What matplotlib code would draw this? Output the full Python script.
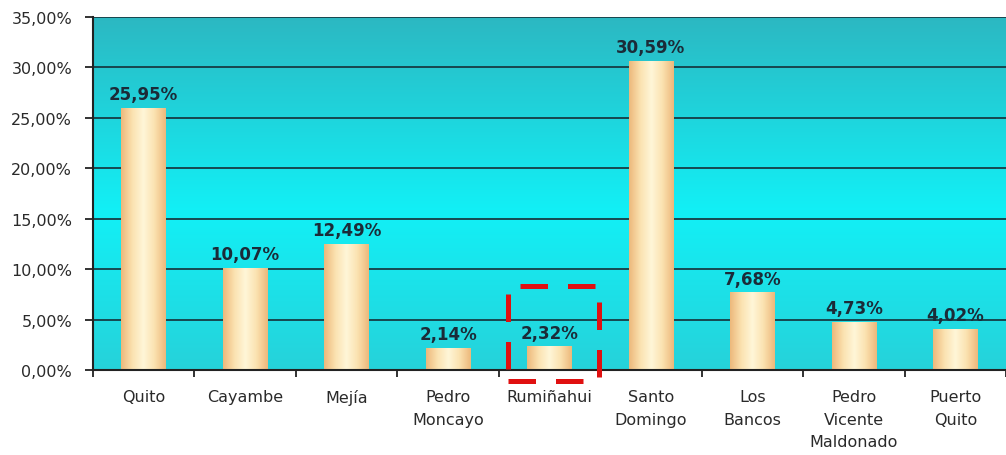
import numpy as np
import matplotlib.pyplot as plt
from matplotlib.patches import Rectangle
from matplotlib.colors import LinearSegmentedColormap

plt.rcParams['font.family'] = ['DejaVu Sans']

# data
cantones = ['Quito', 'Cayambe', 'Mejía', 'Pedro\nMoncayo', 'Rumiñahui',
            'Santo\nDomingo', 'Los\nBancos', 'Pedro\nVicente\nMaldonado', 'Puerto\nQuito']
valores = [25.95, 10.07, 12.49, 2.14, 2.32, 30.59, 7.68, 4.73, 4.02]
etiquetas = ['25,95%', '10,07%', '12,49%', '2,14%', '2,32%', '30,59%', '7,68%', '4,73%', '4,02%']
y_ticks = [0, 5, 10, 15, 20, 25, 30, 35]
y_labels = ['0,00%', '5,00%', '10,00%', '15,00%', '20,00%', '25,00%', '30,00%', '35,00%']
resaltado = 4  # Rumiñahui

fig = plt.figure(figsize=(10.06, 4.56), dpi=100)
ax = fig.add_axes([0.0924, 0.1864, 0.9076, 0.7741])

n = len(cantones)
ax.set_xlim(-0.5, n - 0.5)
ax.set_ylim(0, 35)

# background gradient: darker cyan at bottom, brightest in middle, teal at top
bg_cmap = LinearSegmentedColormap.from_list(
    'bg', [(0, '#26d2da'), (0.45, '#12f0f6'), (1, '#2cb8c2')])
grad = np.linspace(0, 1, 256).reshape(-1, 1)
ax.imshow(grad, cmap=bg_cmap, aspect='auto', extent=(-0.5, n - 0.5, 0, 35),
          origin='lower', zorder=0)

# gridlines
for t in y_ticks[1:]:
    ax.axhline(t, color='#163c44', lw=1.3, zorder=1)

# cylinder bars
bar_cmap = LinearSegmentedColormap.from_list('bar', ['#edb97c', '#fbe2b0', '#fff6d8', '#fbe2b0', '#edb97c'])
w = 0.44
bar_grad = np.linspace(0, 1, 64).reshape(1, -1)
for i, v in enumerate(valores):
    ax.imshow(bar_grad, cmap=bar_cmap, aspect='auto',
              extent=(i - w / 2, i + w / 2, 0, v), zorder=2)
    ax.text(i, v + 0.5, etiquetas[i], ha='center', va='bottom',
            fontsize=12, fontweight='bold', color='#1b2b38', zorder=3)

# red dashed highlight box
box = Rectangle((resaltado - 0.41, -1.1), 0.9, 9.4, fill=False, edgecolor='#e01010',
                lw=3.6, linestyle=(0, (5.5, 4)), clip_on=False, zorder=5)
ax.add_patch(box)

ax.set_xticks(range(n))
ax.set_xticklabels(cantones, fontsize=11.5, color='#2a2a2a', linespacing=1.6)
ax.set_xticks(np.arange(-0.5, n, 1), minor=True)
ax.tick_params(axis='x', which='major', length=0, pad=14)
ax.tick_params(axis='x', which='minor', length=5, width=1.3, color='#222222')
ax.set_yticks(y_ticks)
ax.set_yticklabels(y_labels, fontsize=11.5, color='#2a2a2a')
ax.tick_params(axis='y', length=6, width=1.3, color='#222222', pad=9)

for s in ['top', 'right']:
    ax.spines[s].set_visible(False)
ax.spines['left'].set_color('#222222')
ax.spines['bottom'].set_color('#222222')
ax.spines['left'].set_linewidth(1.5)
ax.spines['bottom'].set_linewidth(1.5)

fig.savefig('out.png', dpi=100)
